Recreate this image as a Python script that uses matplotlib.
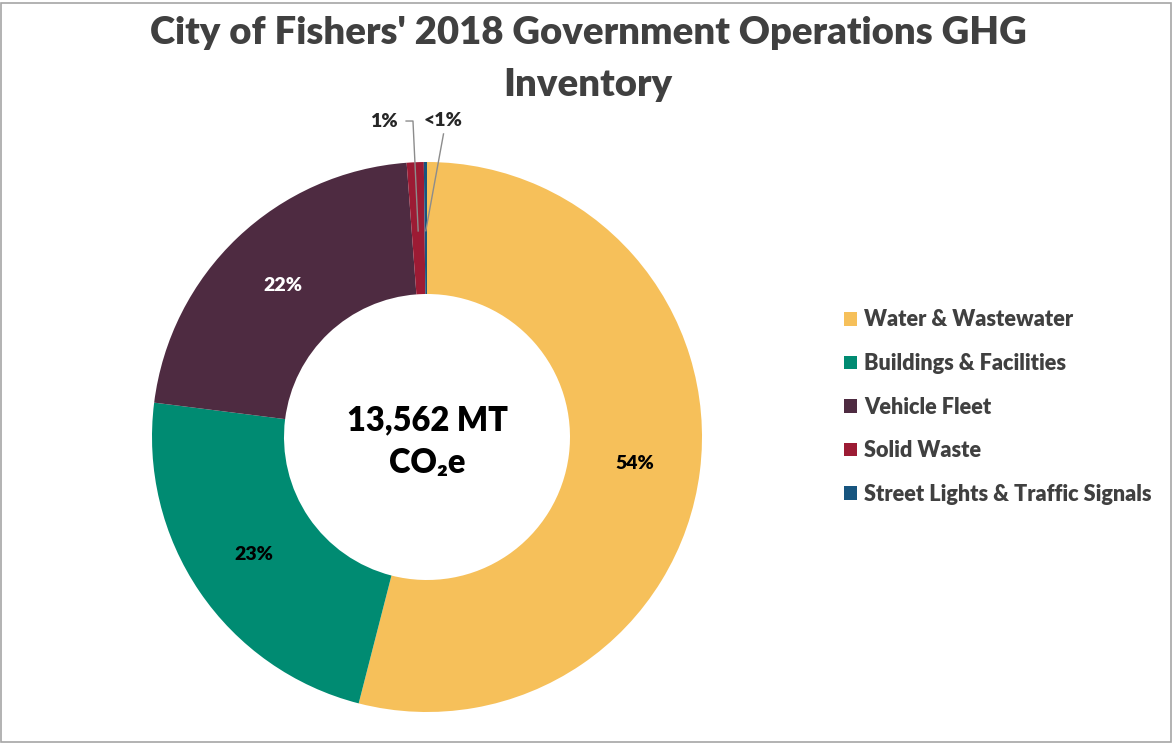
import numpy as np
import matplotlib.pyplot as plt
from matplotlib.patches import Patch, Rectangle

plt.rcParams['font.family'] = ['Lato', 'DejaVu Sans']

categories = ['Water & Wastewater', 'Buildings & Facilities', 'Vehicle Fleet',
              'Solid Waste', 'Street Lights & Traffic Signals']
values = [7323, 3119, 2960, 135, 25]
pct_labels = ['54%', '23%', '22%', '1%', '<1%']
colors = ['#F6C05A', '#008B72', '#4E2B41', '#9C1B34', '#17557F']
label_colors = ['black', 'black', 'white', '#262626', '#262626']

W, H = 1176, 745
fig = plt.figure(figsize=(W / 100, H / 100), dpi=100)
BOLD = 'heavy'

# pie centre (427, 437) px, radius 275 px
cx, cy, r = 427, 437, 275
ax = fig.add_axes([(cx - r) / W, (H - cy - r) / H, 2 * r / W, 2 * r / H])
wedges, _ = ax.pie(values, colors=colors, startangle=90, counterclock=False,
                   radius=1, wedgeprops=dict(width=0.48, linewidth=0))
ax.set_xlim(-1, 1)
ax.set_ylim(-1, 1)
ax.set_aspect('equal')
ax.axis('off')

# mid angles of wedges (degrees, standard orientation)
mids = [np.deg2rad((w.theta1 + w.theta2) / 2) for w in wedges]

for i in range(3):
    ax.text(0.76 * np.cos(mids[i]), 0.76 * np.sin(mids[i]), pct_labels[i],
            ha='center', va='center', fontsize=14, fontweight=BOLD,
            color=label_colors[i])

# small slices: labels outside with leader lines
lab_pos = [(-0.156, 1.149), (0.06, 1.152)]
for k, i in enumerate([3, 4]):
    lx, ly = lab_pos[k]
    ax.text(lx, ly, pct_labels[i], ha='center', va='center', fontsize=14,
            fontweight=BOLD, color=label_colors[i], clip_on=False)
    px, py = 0.75 * np.cos(mids[i]), 0.75 * np.sin(mids[i])
    if k == 0:
        xs = [lx + 0.08, lx + 0.105, px]
        ys = [ly, ly, py]
    else:
        xs = [lx - 0.0, px]
        ys = [ly - 0.05, py]
    ax.plot(xs, ys, color='#8C8C8C', lw=1, clip_on=False)

total = sum(values)
ax.text(0, 0.06, f"{total:,} MT", ha='center', va='center', fontsize=23.5,
        fontweight=BOLD, color='black')
ax.text(0, -0.095, "CO\u2082e", ha='center', va='center', fontsize=23.5,
        fontweight=BOLD, color='black')

fig.text(0.5, 1 - 33 / H, "City of Fishers' 2018 Government Operations GHG",
         ha='center', va='center', fontsize=27.5, fontweight=BOLD, color='#404040')
fig.text(0.5, 1 - 85 / H, "Inventory", ha='center', va='center', fontsize=27.5,
         fontweight=BOLD, color='#404040')

handles = [Patch(facecolor=c, edgecolor='none') for c in colors]
fig.legend(handles, categories, loc='upper left',
           bbox_to_anchor=(824 / W, 1 - 290 / H), frameon=False,
           handlelength=0.6, handleheight=0.6, handletextpad=0.35,
           labelspacing=1.04, prop=dict(size=15.6, weight=BOLD),
           labelcolor='#404040')

fig.patches.append(Rectangle((1 / W, 3 / H), 1170 / W, 739 / H,
                             transform=fig.transFigure, fill=False,
                             edgecolor='#A6A6A6', lw=1.2))

fig.savefig('out.png', dpi=100)
